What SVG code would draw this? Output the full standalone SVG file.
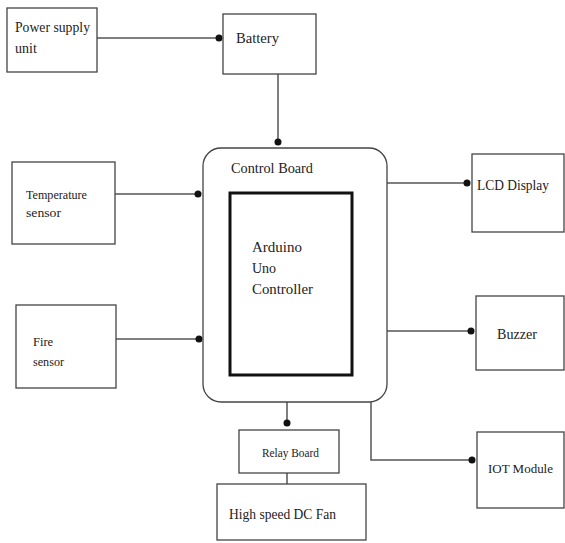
<svg xmlns="http://www.w3.org/2000/svg" width="565" height="543" viewBox="0 0 565 543">
<style>
.box{fill:#fff;stroke:#444;stroke-width:1.3}
.inner{fill:none;stroke:#111;stroke-width:3}
.ln{fill:none;stroke:#555;stroke-width:1.5}
.dot{fill:#111}
.t{font-family:'Liberation Serif','DejaVu Serif','Times New Roman',serif;fill:#222;font-size:14px}
.sm{font-size:12.5px}
</style>
<rect width="565" height="543" fill="#fff"/>
<g id="connectors">
<path class="ln" d="M97 38H219"/><circle class="dot" cx="219" cy="38" r="3.5"/>
<path class="ln" d="M278 74V142"/><circle class="dot" cx="278" cy="142" r="3.5"/>
<path class="ln" d="M115 194H198"/><circle class="dot" cx="198" cy="194" r="3.5"/>
<path class="ln" d="M116 339H199"/><circle class="dot" cx="199" cy="339" r="3.5"/>
<path class="ln" d="M387 183H467"/><circle class="dot" cx="467" cy="183" r="3.5"/>
<path class="ln" d="M387 331H471"/><circle class="dot" cx="471" cy="331" r="3.5"/>
<path class="ln" d="M287 402V424"/><circle class="dot" cx="287" cy="423" r="3.5"/>
<path class="ln" d="M287 473V484"/>
<path class="ln" d="M371 402V460H472"/><circle class="dot" cx="472" cy="460" r="3.5"/>
</g>
<g id="psu"><rect class="box" x="7" y="8" width="90" height="64"/><text class="t" x="15" y="32" textLength="75" lengthAdjust="spacingAndGlyphs">Power supply</text><text class="t" x="15" y="53">unit</text></g>
<g id="battery"><rect class="box" x="223" y="14" width="93" height="60"/><text class="t" x="236" y="43" textLength="43" lengthAdjust="spacingAndGlyphs">Battery</text></g>
<g id="temp"><rect class="box" x="12" y="162" width="103" height="82"/><text class="t sm" x="26" y="199" textLength="61" lengthAdjust="spacingAndGlyphs">Temperature</text><text class="t sm" x="26" y="217" textLength="35" lengthAdjust="spacingAndGlyphs">sensor</text></g>
<g id="fire"><rect class="box" x="16" y="305" width="100" height="83"/><text class="t sm" x="33" y="346">Fire</text><text class="t sm" x="33" y="366" textLength="31" lengthAdjust="spacingAndGlyphs">sensor</text></g>
<g id="control"><rect class="box" x="203" y="148" width="184" height="254" rx="18"/><text class="t" x="231" y="173" textLength="82" lengthAdjust="spacingAndGlyphs">Control Board</text>
<rect class="inner" x="230" y="193" width="122" height="182"/>
<text class="t" x="252" y="252" font-size="14.5" textLength="50" lengthAdjust="spacingAndGlyphs">Arduino</text><text class="t" x="252" y="273" font-size="14.5">Uno</text><text class="t" x="252" y="294" font-size="14.5" textLength="61" lengthAdjust="spacingAndGlyphs">Controller</text></g>
<g id="lcd"><rect class="box" x="472" y="154" width="92" height="78"/><text class="t" x="477" y="190" textLength="72" lengthAdjust="spacingAndGlyphs">LCD Display</text></g>
<g id="buzzer"><rect class="box" x="476" y="296" width="88" height="74"/><text class="t" x="497" y="339" textLength="40" lengthAdjust="spacingAndGlyphs">Buzzer</text></g>
<g id="relay"><rect class="box" x="239" y="430" width="100" height="43"/><text class="t sm" x="262" y="457" textLength="57" lengthAdjust="spacingAndGlyphs">Relay Board</text></g>
<g id="fan"><rect class="box" x="217" y="484" width="149" height="56"/><text class="t" x="229" y="519" textLength="107" lengthAdjust="spacingAndGlyphs">High speed DC Fan</text></g>
<g id="iot"><rect class="box" x="477" y="432" width="87" height="76"/><text class="t sm" x="488" y="473" textLength="65" lengthAdjust="spacingAndGlyphs">IOT Module</text></g>
</svg>
